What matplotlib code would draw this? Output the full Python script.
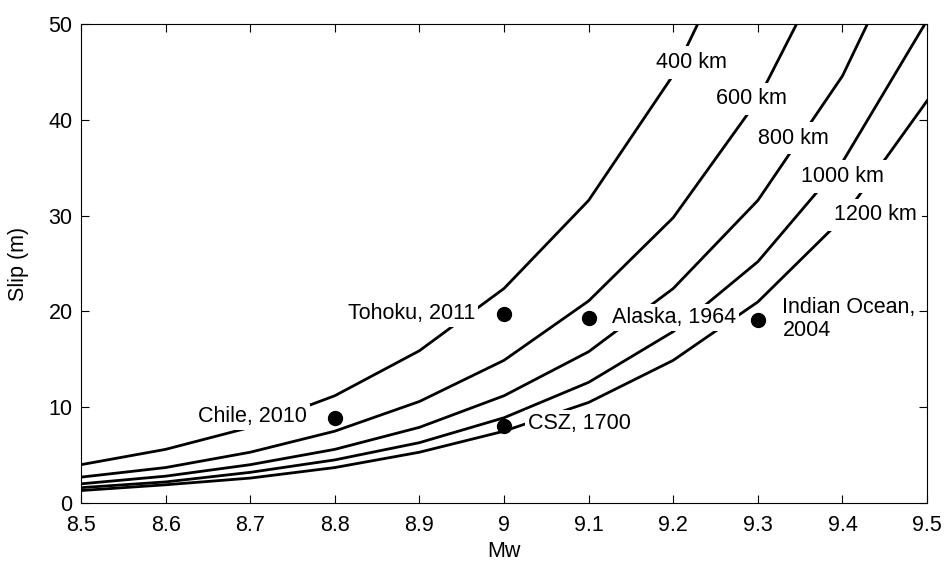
import matplotlib
matplotlib.use("Agg")
import matplotlib.pyplot as plt

plt.rcParams['font.family'] = ['Liberation Sans', 'DejaVu Sans']

# magnitude grid and slip (m) for each rupture length
mw = [8.5, 8.6, 8.7, 8.8, 8.9, 9.0, 9.1, 9.2, 9.3, 9.4, 9.5]
slip_400 = [4.0, 5.6, 7.9, 11.2, 15.9, 22.4, 31.6, 44.7, 63.1, 89.1, 125.9]
slip_600 = [2.7, 3.7, 5.3, 7.5, 10.6, 14.9, 21.1, 29.8, 42.1, 59.4, 83.9]
slip_800 = [2.0, 2.8, 4.0, 5.6, 7.9, 11.2, 15.8, 22.4, 31.6, 44.6, 63.0]
slip_1000 = [1.6, 2.2, 3.2, 4.5, 6.3, 8.9, 12.6, 17.9, 25.2, 35.6, 50.4]
slip_1200 = [1.3, 1.9, 2.6, 3.7, 5.3, 7.5, 10.5, 14.9, 21.0, 29.7, 42.0]
curve_labels = ['400 km', '600 km', '800 km', '1000 km', '1200 km']
label_pos = [(9.222, 46.0), (9.293, 42.2), (9.342, 38.1), (9.400, 34.1), (9.439, 30.1)]

# historical events
event_names = ['Chile, 2010', 'Tohoku, 2011', 'Alaska, 1964', 'CSZ, 1700', 'Indian Ocean,\n2004']
event_mw = [8.8, 9.0, 9.1, 9.0, 9.3]
event_slip = [8.9, 19.7, 19.3, 8.0, 19.1]
event_text = [(8.767, 9.0, 'right'), (8.966, 19.8, 'right'), (9.128, 19.4, 'left'),
              (9.028, 8.35, 'left'), (9.329, 19.2, 'left')]

fs = 15.5

fig = plt.figure(figsize=(9.46, 5.63), dpi=100)
ax = fig.add_axes([0.0856, 0.1066, 0.8944, 0.8504])

for s in [slip_400, slip_600, slip_800, slip_1000, slip_1200]:
    ax.plot(mw, s, color='black', lw=2.0, zorder=2)

for lab, (x, y) in zip(curve_labels, label_pos):
    ax.text(x, y, lab, fontsize=fs, ha='center', va='center', zorder=3,
            bbox=dict(facecolor='white', edgecolor='none', pad=4))

for name, (x, y, ha) in zip(event_names, event_text):
    ax.text(x, y, name, fontsize=fs, ha=ha, va='center', zorder=3, linespacing=1.15,
            bbox=dict(facecolor='white', edgecolor='none', pad=2))

ax.plot(event_mw, event_slip, 'o', color='black', ms=10, zorder=4)

ax.set_xlim(8.5, 9.5)
ax.set_ylim(0, 50)
ax.set_xticks([8.5, 8.6, 8.7, 8.8, 8.9, 9.0, 9.1, 9.2, 9.3, 9.4, 9.5])
ax.set_xticklabels(['8.5', '8.6', '8.7', '8.8', '8.9', '9', '9.1', '9.2', '9.3', '9.4', '9.5'])
ax.set_yticks([0, 10, 20, 30, 40, 50])
ax.tick_params(direction='in', top=True, right=True, length=6, labelsize=fs)
ax.tick_params(axis='x', pad=9)
ax.tick_params(axis='y', pad=6)
ax.set_xlabel('Mw', fontsize=fs, labelpad=3)
ax.set_ylabel('Slip (m)', fontsize=fs, labelpad=14)

fig.savefig('out.png', dpi=100)
